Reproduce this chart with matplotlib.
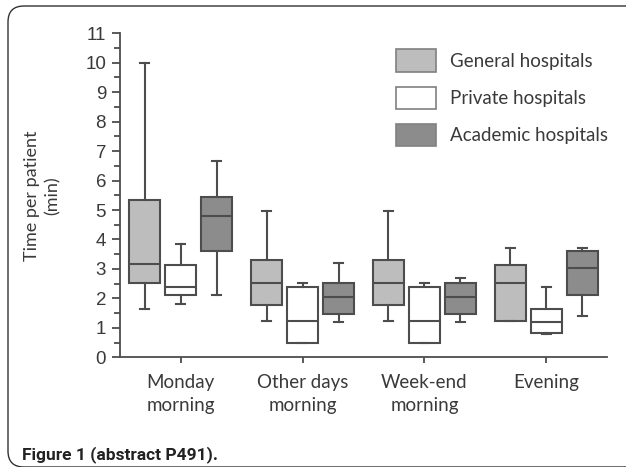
import matplotlib
matplotlib.use('Agg')
import matplotlib.pyplot as plt
from matplotlib.patches import Patch, FancyBboxPatch
from matplotlib.ticker import MultipleLocator

# five-number summaries: whislo, q1, median, q3, whishi
categories = ['Monday\nmorning', 'Other days\nmorning', 'Week-end\nmorning', 'Evening']
general = [[1.65, 2.51, 3.16, 5.34, 10.0],
           [1.24, 1.76, 2.51, 3.32, 4.98],
           [1.24, 1.76, 2.51, 3.32, 4.98],
           [1.23, 1.23, 2.51, 3.13, 3.72]]
private = [[1.81, 2.12, 2.40, 3.14, 3.84],
           [0.49, 0.49, 1.24, 2.40, 2.53],
           [0.49, 0.49, 1.24, 2.40, 2.53],
           [0.78, 0.83, 1.21, 1.65, 2.40]]
academic = [[2.11, 3.62, 4.81, 5.45, 6.65],
            [1.19, 1.47, 2.06, 2.51, 3.19],
            [1.19, 1.47, 2.06, 2.51, 2.68],
            [1.41, 2.11, 3.02, 3.61, 3.72]]
series_names = ['General hospitals', 'Private hospitals', 'Academic hospitals']
fills = ['#bdbdbd', '#ffffff', '#8c8c8c']

edge = '#4d4d4d'
text_col = '#3a3a3a'
label_font = ['Lato', 'DejaVu Sans']

fig = plt.figure(figsize=(6.26, 4.67), dpi=100)
ax = fig.add_axes([120 / 626, 1 - 357.3 / 467, 487 / 626, 324 / 467])

offsets = [-0.296, 0.0, 0.296]
for s, (data, col, off) in enumerate(zip([general, private, academic], fills, offsets)):
    stats = []
    for row in data:
        stats.append({'whislo': row[0], 'q1': row[1], 'med': row[2],
                      'q3': row[3], 'whishi': row[4], 'fliers': []})
    pos = [i + 1 + off for i in range(len(data))]
    ax.bxp(stats, positions=pos, widths=0.255, capwidths=0.075,
           showfliers=False, patch_artist=True,
           boxprops=dict(facecolor=col, edgecolor=edge, linewidth=1.5),
           medianprops=dict(color=edge, linewidth=1.5),
           whiskerprops=dict(color=edge, linewidth=1.5),
           capprops=dict(color=edge, linewidth=1.5),
           manage_ticks=False)

ax.set_xlim(0.5, 4.5)
ax.set_ylim(0, 11)
ax.set_xticks(range(1, len(categories) + 1))
ax.set_xticklabels(categories, fontsize=13.5, family=label_font, color=text_col,
                   linespacing=1.45)
ax.yaxis.set_major_locator(MultipleLocator(1))
ax.yaxis.set_minor_locator(MultipleLocator(0.5))
ax.tick_params(axis='y', which='major', length=6, width=1.3, color=edge,
               labelsize=13.5, labelcolor=text_col, pad=4)
ax.tick_params(axis='y', which='minor', length=4, width=1.3, color=edge)
ax.tick_params(axis='x', which='major', length=4, width=1.3, color=edge, pad=8)
for lab in ax.get_yticklabels():
    lab.set_family(['Liberation Sans', 'DejaVu Sans'])
for side in ['top', 'right']:
    ax.spines[side].set_visible(False)
for side in ['left', 'bottom']:
    ax.spines[side].set_color(edge)
    ax.spines[side].set_linewidth(1.3)

ax.set_ylabel('Time per patient\n(min)', fontsize=13, family=label_font,
              color=text_col, labelpad=18, linespacing=1.35)

handles = [Patch(facecolor=c, edgecolor='#808080', linewidth=1.2) for c in fills]
fig.legend(handles, series_names, loc='upper left',
           bbox_to_anchor=(387 / 626, 1 - 40 / 467), frameon=False,
           borderpad=0, handlelength=2.1, handleheight=1.45, labelspacing=0.8,
           handletextpad=0.75, prop={'family': label_font, 'size': 13.5},
           labelcolor=text_col)

fig.text(22 / 626, 1 - 455 / 467, 'Figure 1 (abstract P491).', fontsize=12.5,
         fontweight='bold', family=['Roboto', 'DejaVu Sans'],
         color='#222222', va='center', ha='left')

frame = FancyBboxPatch((8, 0), 640, 461, boxstyle='round,pad=0,rounding_size=16',
                       transform=None, facecolor='none', edgecolor='#333333',
                       linewidth=1.0)
fig.patches.append(frame)

fig.savefig('out.png', dpi=100)
plt.close(fig)
